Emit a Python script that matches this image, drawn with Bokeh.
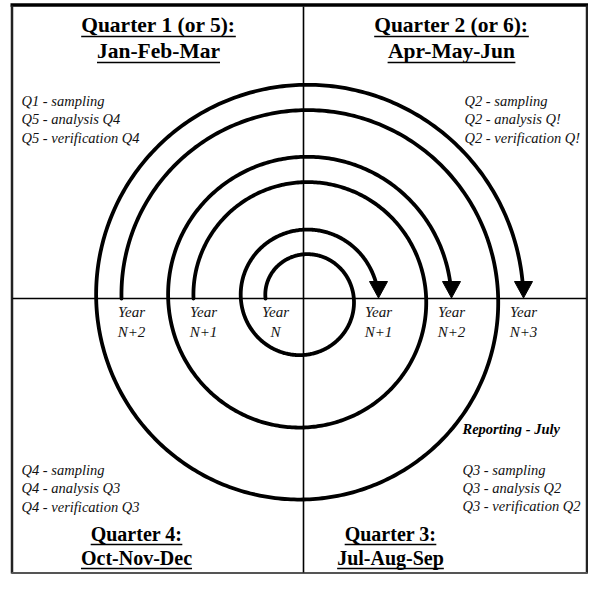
import numpy as np
from bokeh.plotting import figure
from bokeh.models import Range1d
from bokeh.core.properties import value
from bokeh.embed import file_html
from bokeh.resources import INLINE

# ---------------- data ----------------
quarter_titles = ["Quarter 1 (or 5):", "Quarter 2 (or 6):", "Quarter 3:", "Quarter 4:"]
quarter_months = ["Jan-Feb-Mar", "Apr-May-Jun", "Jul-Aug-Sep", "Oct-Nov-Dec"]

q1_lines = ["Q1 - sampling", "Q5 - analysis Q4", "Q5 - verification Q4"]
q2_lines = ["Q2 - sampling", "Q2 - analysis Q!", "Q2 - verification Q!"]
q3_lines = ["Q3 - sampling", "Q3 - analysis Q2", "Q3 - verification Q2"]
q4_lines = ["Q4 - sampling", "Q4 - analysis Q3", "Q4 - verification Q3"]
reporting_label = "Reporting - July"

# three spirals: each starts at a year (left) and ends 1.5 turns later (right)
spiral_start_years = ["N", "N+1", "N+2"]
spiral_end_years = ["N+1", "N+2", "N+3"]
spiral_start_radius = [38, 110, 182]
spiral_end_radius = [75, 148, 220]
spiral_half_turns = 3

# ---------------- layout / style ----------------
W, H = 588, 574
CX, CY = 303, 298
FONT = value("Liberation Serif")
BOLD_W = {' ': 250, '(': 333, ')': 333, ':': 333, '-': 333, 'A': 722, 'D': 722,
          'F': 611, 'J': 500, 'M': 944, 'N': 722, 'O': 778, 'Q': 778, 'S': 556,
          'a': 500, 'b': 556, 'c': 444, 'e': 444, 'g': 500, 'l': 278, 'n': 556,
          'o': 500, 'p': 556, 'r': 444, 't': 333, 'u': 556, 'v': 500, 'y': 500}
MID = 0.34  # middle of text box above the baseline, in em


def bold_width(s, size):
    return sum(BOLD_W.get(c, 500) for c in s) / 1000.0 * size


def mid(baseline, size):
    return baseline - MID * size


p = figure(width=W, height=H, x_range=Range1d(0, W), y_range=Range1d(H, 0),
           output_backend="svg", toolbar_location=None, min_border=0,
           x_axis_location=None, y_axis_location=None)
p.grid.visible = False
p.outline_line_color = None
p.background_fill_color = "white"
p.border_fill_color = "white"

# frame
p.segment(x0=[10], y0=[4.5], x1=[W], y1=[4.5], line_color="black", line_width=3.5)
p.segment(x0=[11.5, W - 1.5], y0=[5, 5], x1=[11.5, W - 1.5], y1=[H - 1, H - 1],
          line_color="#222222", line_width=2.5)
p.segment(x0=[11], y0=[H - 1.5], x1=[W - 1], y1=[H - 1.5], line_color="#555555", line_width=2)

# quadrant axes
p.segment(x0=[12, CX], y0=[CY, 6], x1=[W - 2, CX], y1=[CY, H - 2],
          line_color="black", line_width=1.6)

# spirals
xs, ys, ax, ay = [], [], [], []
head_h, head_w = 17, 18
for r0, r1 in zip(spiral_start_radius, spiral_end_radius):
    total = spiral_half_turns * np.pi
    theta_end = total - np.arcsin(head_h / r1)
    th = np.linspace(0, theta_end, 600)
    r = r0 + (r1 - r0) * th / total
    xs.append(list(CX - r * np.cos(th)))
    ys.append(list(CY - r * np.sin(th)))
    tipx = CX + r1
    ax.append([tipx - head_w / 2, tipx + head_w / 2, tipx])
    ay.append([CY - head_h, CY - head_h, CY - 0.5])
p.multi_line(xs, ys, line_color="black", line_width=3.8, line_cap="round", line_join="round")
p.patches(ax, ay, fill_color="black", line_color="black", line_width=1)

# year labels
YS = 15
yl_x, yl_y, yl_t = [], [], []
for r0, yr in zip(spiral_start_radius, spiral_start_years):
    yl_x += [CX - r0 + 10, CX - r0 + 10]
    yl_y += [mid(317, YS), mid(337, YS)]
    yl_t += ["Year", yr]
for r1, yr in zip(spiral_end_radius, spiral_end_years):
    yl_x += [CX + r1, CX + r1]
    yl_y += [mid(317, YS), mid(337, YS)]
    yl_t += ["Year", yr]
p.text(x=yl_x, y=yl_y, text=yl_t, text_font=FONT, text_font_style="italic",
       text_font_size=f"{YS}px", text_align="center", text_baseline="middle",
       text_color="#111111")

# quarter titles (bold, underlined)
title_pos = [(158, 32, 58, 21.5), (451, 32, 58, 21.5),
             (390, 540, 564, 20), (136, 540, 564, 20)]
for t, m, (x, y1, y2, size) in zip(quarter_titles, quarter_months, title_pos):
    p.text(x=[x, x], y=[mid(y1, size), mid(y2, size)], text=[t, m], text_font=FONT,
           text_font_style="bold", text_font_size=f"{size}px", text_align="center",
           text_baseline="middle", text_color="black")
    for s, yy in ((t, y1), (m, y2)):
        w = bold_width(s, size)
        p.segment(x0=[x - w / 2], y0=[yy + 4], x1=[x + w / 2], y1=[yy + 4],
                  line_color="black", line_width=1.5)

# activity blocks
AS = 14.5
blocks = [(q1_lines, 21, [105, 123.5, 142]), (q2_lines, 464, [105, 123.5, 142]),
          (q3_lines, 462, [474, 492, 510]), (q4_lines, 21, [474, 492.5, 511])]
for lines, x, yy in blocks:
    p.text(x=[x] * len(lines), y=[mid(v, AS) for v in yy], text=lines, text_font=FONT,
           text_font_style="italic", text_font_size=f"{AS}px", text_align="left",
           text_baseline="middle", text_color="#111111")
p.text(x=[462], y=[mid(433, AS)], text=[reporting_label], text_font=FONT,
       text_font_style="bold italic", text_font_size=f"{AS}px", text_align="left",
       text_baseline="middle", text_color="black")

open("out.html", "w").write(file_html(p, INLINE))
